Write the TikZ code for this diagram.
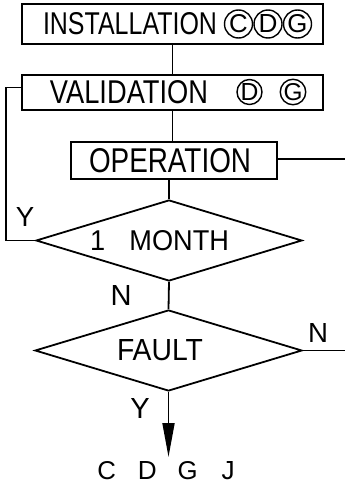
\documentclass[tikz,border=0pt]{standalone}
\usepackage{graphicx}
\usepackage{fontspec}
\setmainfont{Liberation Sans}
\usetikzlibrary{shapes.geometric,arrows.meta}
\newcommand{\fit}[3]{\resizebox{#1}{#2}{#3}}
\begin{document}
\begin{tikzpicture}[x=1pt,y=-1pt,
  box/.style={draw, rectangle, inner sep=0pt, line width=1.8pt},
  dec/.style={draw, diamond, inner sep=0pt, line width=1.8pt},
  circ/.style={draw, circle, inner sep=0pt, line width=1.4pt},
  lbl/.style={inner sep=0pt},
  wire/.style={line width=1.8pt}]
\useasboundingbox (0,0) rectangle (345,484);

% boxes
\node[box, minimum width=301pt, minimum height=40pt] (inst) at (172.5,24)
  {\makebox[301pt][l]{\hspace{21pt}\fit{174pt}{22pt}{INSTALLATION}}};
\node[circ, minimum size=28pt] (instC) at (238.5,24) {\fit{!}{18pt}{C}};
\node[circ, minimum size=28pt] (instD) at (268,24) {\fit{!}{18pt}{D}};
\node[circ, minimum size=28pt] (instG) at (297.5,24) {\fit{!}{18pt}{G}};

\node[box, minimum width=301pt, minimum height=35pt] (val) at (172.5,92.5)
  {\makebox[301pt][l]{\hspace{28pt}\fit{158pt}{23pt}{VALIDATION}}};
\node[circ, minimum size=25pt] (valD) at (249.5,92) {\fit{!}{17pt}{D}};
\node[circ, minimum size=25pt] (valG) at (293,92) {\fit{!}{17pt}{G}};

\node[box, minimum width=206pt, minimum height=37pt] (op) at (174,160.5)
  {\makebox[206pt][l]{\hspace{18pt}\fit{162pt}{24pt}{OPERATION}}};

% decisions
\node[dec, minimum width=266pt, minimum height=81pt] (d1) at (169,240.5)
  {\makebox[0pt]{\hspace*{-19pt}\fit{139pt}{20pt}{1\hspace{0.9em}MONTH}}};
\node[dec, minimum width=267pt, minimum height=81pt] (d2) at (168.5,350.5)
  {\makebox[0pt]{\hspace*{-17pt}\fit{86pt}{21pt}{FAULT}}};

% labels
\node[lbl] (yleft) at (25,217) {\fit{!}{19pt}{Y}};
\node[lbl] (nmid) at (121,295) {\fit{!}{20pt}{N}};
\node[lbl] (nright) at (318,333) {\fit{!}{19pt}{N}};
\node[lbl] (ybot) at (140,408) {\fit{!}{20pt}{Y}};
\node[lbl] (out) at (167.5,471)
  {\makebox[40.5pt]{\fit{!}{18pt}{C}}\makebox[40.5pt]{\fit{!}{18pt}{D}}\makebox[40.5pt]{\fit{!}{18pt}{G}}\makebox[40.5pt]{\fit{!}{18pt}{J}}};

% free ends
\coordinate (opout) at (345,159);
\coordinate (d2out) at (345,350.5);
\coordinate (tip) at (168.5,457);

% connectors
\draw[wire] (inst.south) -- (val.north);
\draw[wire] (val.south) -- (val.south |- op.north);
\draw[wire] (op.south -| d1.north) -- (d1.north);
\draw[wire] ([yshift=5pt]val.west) -- ++(-15,0) |- (d1.west);
\draw[wire] (op.east |- opout) -- (opout);
\draw[wire] (d1.south) -- (d2.north);
\draw[wire] (d2.east) -- (d2out);
\draw[wire, -{Triangle[length=34pt,width=12pt]}] (d2.south) -- (tip);
\end{tikzpicture}
\end{document}
